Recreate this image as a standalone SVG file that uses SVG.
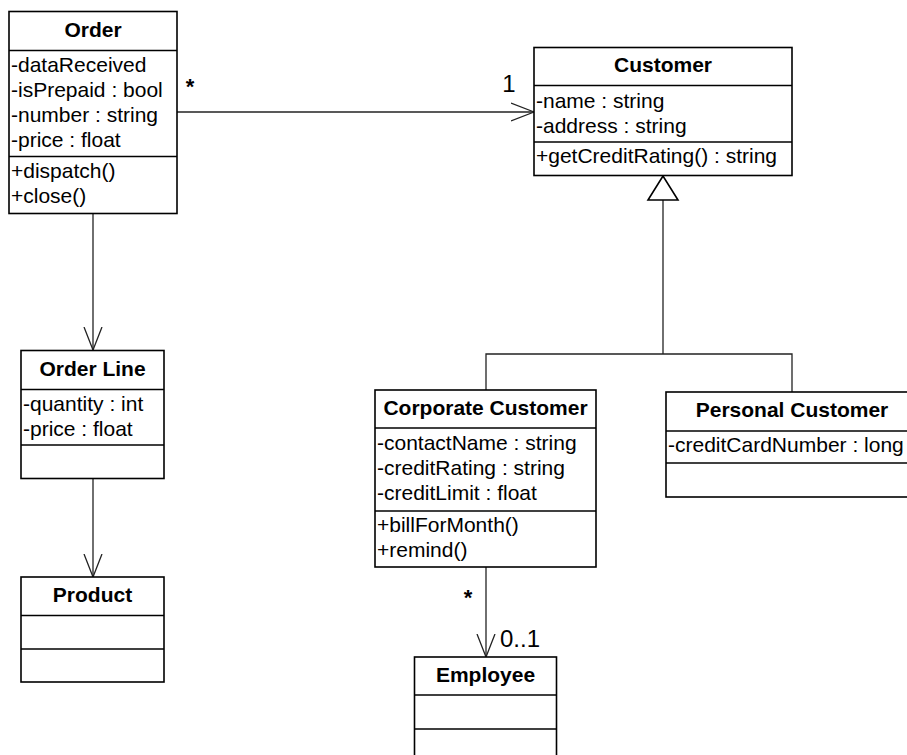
<svg xmlns="http://www.w3.org/2000/svg" width="907" height="755" viewBox="0 0 907 755">
  <style>
    .box { fill: #ffffff; stroke: #000000; stroke-width: 1.6; }
    .sep { stroke: #000000; stroke-width: 1.6; }
    .title { font-family: "Liberation Sans", Arial, sans-serif; font-size: 21px; font-weight: bold; fill: #000; text-anchor: middle; }
    .attr { font-family: "Liberation Sans", Arial, sans-serif; font-size: 21px; fill: #000; }
    .mult { font-family: "Liberation Sans", Arial, sans-serif; font-size: 24px; fill: #000; }
    .star { font-family: "Liberation Sans", Arial, sans-serif; font-size: 22px; font-weight: bold; fill: #000; text-anchor: middle; }
    .line { fill: none; stroke: #222222; stroke-width: 1.3; }
  </style>
  <defs>
    <marker id="open" viewBox="0 0 24 20" refX="23" refY="10" markerWidth="24" markerHeight="20" markerUnits="userSpaceOnUse" orient="auto">
      <path d="M0,1 L23,10 L0,19" fill="none" stroke="#222222" stroke-width="1.3"/>
    </marker>
  </defs>

  <rect width="907" height="755" fill="#ffffff"/>

  <!-- connectors -->
  <g id="connectors">
    <line class="line" x1="177" y1="112" x2="534" y2="112" marker-end="url(#open)"/>
    <line class="line" x1="93" y1="213" x2="93" y2="350" marker-end="url(#open)"/>
    <line class="line" x1="93" y1="478" x2="93" y2="577" marker-end="url(#open)"/>
    <line class="line" x1="486" y1="567" x2="486" y2="657" marker-end="url(#open)"/>
    <!-- generalization tree -->
    <polyline class="line" points="486,390 486,354 792,354 792,392"/>
    <line class="line" x1="663" y1="354" x2="663" y2="200"/>
    <polygon points="663,176 648,200 678,200" fill="#ffffff" stroke="#000000" stroke-width="1.6"/>
    <!-- multiplicities -->
    <text class="star" x="190" y="94">*</text>
    <text class="mult" x="509" y="92" text-anchor="middle">1</text>
    <text class="star" x="468" y="605">*</text>
    <text class="mult" x="500" y="647">0..1</text>
  </g>

  <g id="order">
    <rect class="box" x="9" y="11.5" width="168" height="202"/>
    <line class="sep" x1="9" y1="50.5" x2="177" y2="50.5"/>
    <line class="sep" x1="9" y1="156.5" x2="177" y2="156.5"/>
    <text class="title" x="93" y="37">Order</text>
    <text class="attr" x="11" y="72">-dataReceived</text>
    <text class="attr" x="11" y="97">-isPrepaid : bool</text>
    <text class="attr" x="11" y="122">-number : string</text>
    <text class="attr" x="11" y="147">-price : float</text>
    <text class="attr" x="11" y="178">+dispatch()</text>
    <text class="attr" x="11" y="203">+close()</text>
  </g>

  <g id="customer">
    <rect class="box" x="534" y="47.5" width="258" height="128"/>
    <line class="sep" x1="534" y1="85.5" x2="792" y2="85.5"/>
    <line class="sep" x1="534" y1="142" x2="792" y2="142"/>
    <text class="title" x="663" y="72">Customer</text>
    <text class="attr" x="536" y="108">-name : string</text>
    <text class="attr" x="536" y="133">-address : string</text>
    <text class="attr" x="536" y="163">+getCreditRating() : string</text>
  </g>

  <g id="order-line">
    <rect class="box" x="21" y="350.5" width="143" height="128"/>
    <line class="sep" x1="21" y1="389.5" x2="164" y2="389.5"/>
    <line class="sep" x1="21" y1="445" x2="164" y2="445"/>
    <text class="title" x="92.5" y="376">Order Line</text>
    <text class="attr" x="23" y="411">-quantity : int</text>
    <text class="attr" x="23" y="436">-price : float</text>
  </g>

  <g id="product">
    <rect class="box" x="21" y="577" width="143" height="105"/>
    <line class="sep" x1="21" y1="615.5" x2="164" y2="615.5"/>
    <line class="sep" x1="21" y1="649" x2="164" y2="649"/>
    <text class="title" x="92.5" y="602">Product</text>
  </g>

  <g id="corporate-customer">
    <rect class="box" x="375" y="390" width="221" height="177"/>
    <line class="sep" x1="375" y1="428" x2="596" y2="428"/>
    <line class="sep" x1="375" y1="511" x2="596" y2="511"/>
    <text class="title" x="485.5" y="415">Corporate Customer</text>
    <text class="attr" x="377" y="450">-contactName : string</text>
    <text class="attr" x="377" y="475">-creditRating : string</text>
    <text class="attr" x="377" y="500">-creditLimit : float</text>
    <text class="attr" x="377" y="532">+billForMonth()</text>
    <text class="attr" x="377" y="557">+remind()</text>
  </g>

  <g id="personal-customer">
    <rect class="box" x="666" y="392" width="252" height="105"/>
    <line class="sep" x1="666" y1="431" x2="918" y2="431"/>
    <line class="sep" x1="666" y1="463" x2="918" y2="463"/>
    <text class="title" x="792" y="417">Personal Customer</text>
    <text class="attr" x="668" y="452">-creditCardNumber : long</text>
  </g>

  <g id="employee">
    <rect class="box" x="414.5" y="657" width="142" height="105"/>
    <line class="sep" x1="414.5" y1="695" x2="556.5" y2="695"/>
    <line class="sep" x1="414.5" y1="729" x2="556.5" y2="729"/>
    <text class="title" x="485.5" y="682">Employee</text>
  </g>
</svg>
